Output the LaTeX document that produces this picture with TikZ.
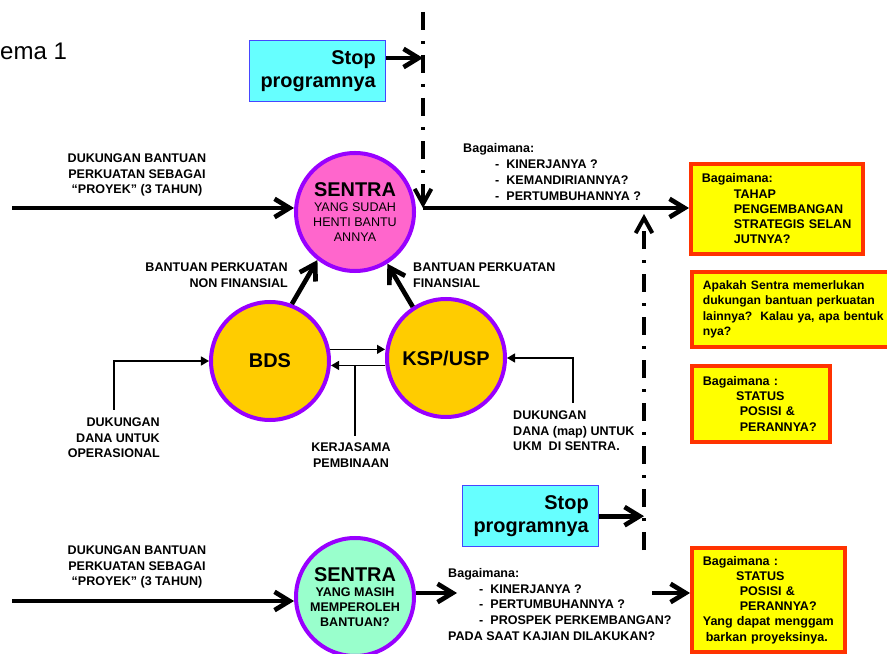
\documentclass[tikz,border=0pt]{standalone}
\usepackage{fontspec}
\setmainfont{Liberation Sans}
\usepackage{xcolor}
\usepackage{tikz}
\usetikzlibrary{arrows.meta,positioning,calc}
\definecolor{ungu}{RGB}{153,0,255}
\definecolor{merahmuda}{RGB}{255,102,204}
\definecolor{oranye}{RGB}{255,204,0}
\definecolor{mint}{RGB}{153,255,204}
\definecolor{sian}{RGB}{102,255,255}
\definecolor{biru}{RGB}{70,70,255}
\definecolor{kuning}{RGB}{255,255,0}
\definecolor{merah}{RGB}{255,51,0}
\tikzstyle{sentra} = [circle, draw=ungu, line width=0.12cm, minimum size=3.54cm, inner sep=0pt, align=center, font=\fontsize{10.7}{13}\selectfont]
\tikzstyle{lembaga} = [sentra, fill=oranye, font=\bfseries\fontsize{17}{20}\selectfont]
\tikzstyle{stopbox} = [rectangle, draw=biru, fill=sian, line width=0.04cm, anchor=north west, minimum height=1.83cm, text width=3.48cm, inner xsep=0.3cm, align=right, font=\bfseries\fontsize{17}{19.6}\selectfont]
\tikzstyle{tanya} = [rectangle, draw=merah, fill=kuning, line width=0.11cm, anchor=north west, inner xsep=0.33cm, align=left, font=\bfseries\fontsize{10.7}{13}\selectfont]
\tikzstyle{ket} = [inner sep=0pt, font=\bfseries\fontsize{10.7}{13}\selectfont]
\tikzstyle{tebal} = [line width=0.14cm, -{Straight Barb[length=4.5mm,width=5.5mm]}]
\tikzstyle{putus} = [line width=0.12cm, dash pattern=on 0.54cm off 0.33cm on 0.09cm off 0.33cm, -{Straight Barb[length=4.5mm,width=5mm]}]
\tikzstyle{tipis} = [line width=0.04cm]
\tikzstyle{tipispanah} = [tipis, -{Triangle[length=2.4mm,width=2.7mm]}]

\begin{document}
\begin{tikzpicture}[x=0.03cm, y=-0.03cm]
    \useasboundingbox (0,0) rectangle (887,654);

    \node[anchor=base west, inner sep=0pt, font=\fontsize{20.5}{24}\selectfont] (judul) at (0,60) {ema 1};

    \node[sentra, fill=merahmuda] (sentra1) at (355,212) {{\bfseries\fontsize{17}{17}\selectfont SENTRA}\\YANG SUDAH\\HENTI BANTU\\ANNYA};
    \node[lembaga] (bds) at (270,361) {BDS};
    \node[lembaga] (ksp) at (446,358) {KSP/USP};
    \node[sentra, fill=mint, font=\bfseries\fontsize{10.7}{13}\selectfont] (sentra2) at (355,597) {{\fontsize{17}{17}\selectfont SENTRA}\\YANG MASIH\\MEMPEROLEH\\BANTUAN?};

    \node[stopbox] (stop1) at (249,40) {Stop\\programnya};
    \node[stopbox] (stop2) at (462,485) {Stop\\programnya};

    \node[tanya, text width=4.5cm, minimum height=2.7cm] (tanya1) at (689,162) {Bagaimana:\\\hspace*{0.96cm}TAHAP\\\hspace*{0.96cm}PENGEMBANGAN\\\hspace*{0.96cm}STRATEGIS SELAN\\\hspace*{0.96cm}JUTNYA?};
    \node[tanya, text width=5.7cm, minimum height=2.25cm, font=\bfseries\fontsize{10.4}{13}\selectfont] (tanya2) at (690,270) {Apakah Sentra memerlukan\\dukungan bantuan perkuatan\\lainnya?\ \ Kalau ya, apa bentuk\\nya?};
    \node[tanya, text width=3.48cm, minimum height=2.28cm] (tanya3) at (690,364) {Bagaimana :\\\hspace*{1cm}STATUS\\\hspace*{1.11cm}POSISI \&\\\hspace*{1.11cm}PERANNYA?};
    \node[tanya, text width=3.93cm, minimum height=3.12cm] (tanya4) at (690,546) {Bagaimana :\\\hspace*{1cm}STATUS\\\hspace*{1.11cm}POSISI \&\\\hspace*{1.11cm}PERANNYA?\\Yang dapat menggam\\\hspace*{0.09cm}barkan proyeksinya.};

    \node[ket, align=center, anchor=north] (proyek1) at (137,154) {DUKUNGAN BANTUAN\\PERKUATAN SEBAGAI\\“PROYEK” (3 TAHUN)};
    \node[ket, align=center, anchor=north] (proyek2) at (137,546) {DUKUNGAN BANTUAN\\PERKUATAN SEBAGAI\\“PROYEK” (3 TAHUN)};
    \node[ket, align=left, anchor=north west, font=\bfseries\fontsize{10.7}{13.8}\selectfont] (bagaimana1) at (463,143) {Bagaimana:\\\hspace*{0.96cm}-\hspace{0.21cm}KINERJANYA ?\\\hspace*{0.96cm}-\hspace{0.21cm}KEMANDIRIANNYA?\\\hspace*{0.96cm}-\hspace{0.21cm}PERTUMBUHANNYA ?};
    \node[ket, align=left, anchor=north west, font=\bfseries\fontsize{10.7}{13.4}\selectfont] (bagaimana2) at (448,568) {Bagaimana:\\\hspace*{0.93cm}-\hspace{0.21cm}KINERJANYA ?\\\hspace*{0.93cm}-\hspace{0.21cm}PERTUMBUHANNYA ?\\\hspace*{0.93cm}-\hspace{0.21cm}PROSPEK PERKEMBANGAN?\\PADA SAAT KAJIAN DILAKUKAN?};
    \node[ket, align=right, anchor=north east] (nonfin) at (288,263) {BANTUAN PERKUATAN\\NON FINANSIAL};
    \node[ket, align=left, anchor=north west] (fin) at (413,263) {BANTUAN PERKUATAN\\FINANSIAL};
    \node[ket, align=right, anchor=north east] (opr) at (160,418) {DUKUNGAN\\DANA UNTUK\\OPERASIONAL};
    \node[ket, align=left, anchor=north west] (ukm) at (513,411) {DUKUNGAN\\DANA (map) UNTUK\\UKM\ \ DI SENTRA.};
    \node[ket, align=center, anchor=north] (kerjasama) at (351,443) {KERJASAMA\\PEMBINAAN};

    \coordinate (kiri1) at (12,208);
    \coordinate (kiri2) at (12,601);
    \coordinate (atas1) at (423,12);
    \coordinate (titik1) at (423,208);
    \coordinate (s1) at (423,58);
    \coordinate (bawah2) at (644,550);
    \coordinate (titik2) at (644,214);
    \coordinate (opr0) at (114,410);
    \coordinate (ukm0) at (573,403);
    \coordinate (kerja0) at (355,436);
    \coordinate (hasil2) at (457,593);
    \coordinate (hasil4) at (652,593);

    \draw[tebal] (kiri1) -- (kiri1 -| sentra1.west);
    \draw[putus] (atas1) -- (titik1);
    \draw[tebal] (stop1.east |- s1) -- (s1);
    \draw[tebal] (titik1) -- (titik1 -| tanya1.west);
    \draw[putus] (bawah2) -- (titik2);
    \draw[tebal] (stop2.east) -- (stop2.east -| bawah2);
    \draw[tebal] (bds.69) -- (sentra1.232);
    \draw[tebal] (ksp.123) -- (sentra1.302);
    \draw[tipispanah] (bds.11) -- (bds.11 -| ksp.west);
    \draw[tipispanah] (ksp.187) -- (ksp.187 -| bds.east);
    \draw[tipis] (kerja0) -- (kerja0 |- ksp.187);
    \draw[tipispanah] (opr0) |- (bds.west);
    \draw[tipispanah] (ukm0) |- (ksp.east);
    \draw[tebal] (kiri2) -- (kiri2 -| sentra2.west);
    \draw[tebal] (sentra2.east |- hasil2) -- (hasil2);
    \draw[tebal] (hasil4) -- (hasil4 -| tanya4.west);
\end{tikzpicture}
\end{document}
